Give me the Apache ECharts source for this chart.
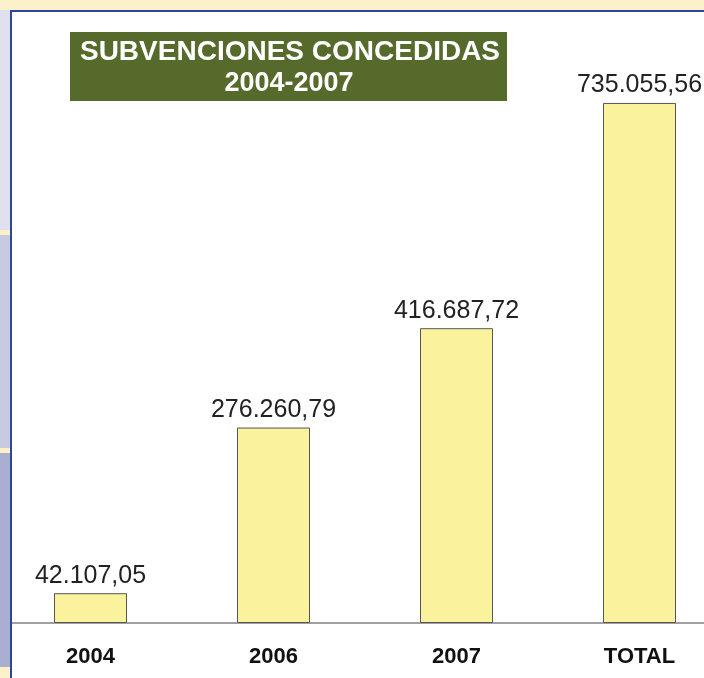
<!DOCTYPE html>
<html><head><meta charset="utf-8">
<script src="https://cdn.jsdelivr.net/npm/echarts@6/dist/echarts.min.js"></script>
<style>html,body{margin:0;padding:0;background:#fff;}#c{width:704px;height:678px;}</style>
</head><body><div id="c"></div>
<script>
const categories = ['2004', '2006', '2007', 'TOTAL'];
const values = [42107.05, 276260.79, 416687.72, 735055.56];
const titleLines = ['SUBVENCIONES CONCEDIDAS', '2004-2007'];

function fmt(v) {
  const parts = v.toFixed(2).split('.');
  return parts[0].replace(/\B(?=(\d{3})+(?!\d))/g, '.') + ',' + parts[1];
}

const chart = echarts.init(document.getElementById('c'), null, {renderer: 'canvas'});
chart.setOption({
  backgroundColor: '#ffffff',
  animation: false,
  grid: {left: -1, width: 732, top: 57, bottom: 55, containLabel: false, outerBoundsMode: 'none'},
  xAxis: {
    type: 'category', data: categories,
    axisLine: {lineStyle: {color: '#a0a0a0', width: 2}},
    axisTick: {show: false},
    axisLabel: {color: '#111', fontWeight: 'bold', fontSize: 22, margin: 23, fontFamily: 'Liberation Sans, Arial, sans-serif'}
  },
  yAxis: {type: 'value', min: 0, max: 800000, show: false, splitLine: {show: false}},
  series: [{
    type: 'bar', data: values, barWidth: 73,
    itemStyle: {color: '#faf29c', borderColor: '#555', borderWidth: 1},
    label: {show: true, position: 'top', distance: 5, color: '#222', fontSize: 25,
      fontFamily: 'Liberation Sans, Arial, sans-serif', formatter: p => fmt(p.value)}
  }],
  graphic: [
    {type: 'rect', left: 0, top: 0, z: 100, shape: {width: 704, height: 10}, style: {fill: '#fdf1c9'}},
    {type: 'rect', left: 0, top: 10, z: 100, shape: {width: 10, height: 668}, style: {fill: '#fdf1c9'}},
    {type: 'rect', left: 0, top: 10, z: 101, shape: {width: 10, height: 220}, style: {fill: '#e0e0ee'}},
    {type: 'rect', left: 0, top: 235, z: 101, shape: {width: 10, height: 213}, style: {fill: '#c9c9e2'}},
    {type: 'rect', left: 0, top: 453, z: 101, shape: {width: 10, height: 214}, style: {fill: '#aaaed2'}},
    {type: 'rect', left: 10, top: 10, z: 102, shape: {width: 2, height: 668}, style: {fill: '#2b479b'}},
    {type: 'rect', left: 10, top: 10, z: 102, shape: {width: 694, height: 2}, style: {fill: '#2b479b'}},
    {type: 'rect', left: 70, top: 32, z: 50, shape: {width: 437, height: 69}, style: {fill: '#566a2b'}},
    {type: 'text', x: 290, y: 52, z: 51, style: {text: titleLines[0], fill: '#ffffff', font: 'bold 28px "Liberation Sans", Arial, sans-serif', textAlign: 'center', textVerticalAlign: 'middle'}},
    {type: 'text', x: 289, y: 84, z: 51, style: {text: titleLines[1], fill: '#ffffff', font: 'bold 27px "Liberation Sans", Arial, sans-serif', textAlign: 'center', textVerticalAlign: 'middle'}}
  ]
});
</script></body></html>
